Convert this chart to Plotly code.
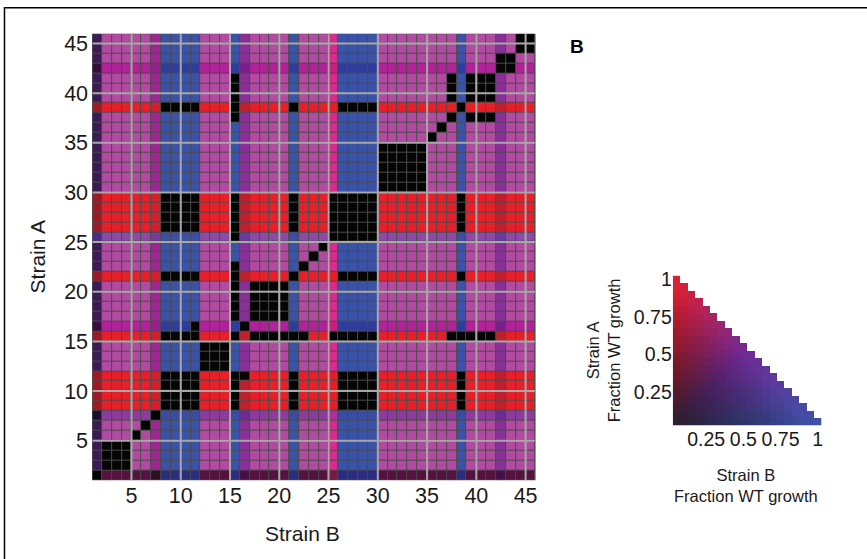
import numpy as np
import plotly.graph_objects as go

# ---------------- data ----------------
strain_ids = list(range(1, 46))
# phenotype class of each strain (row = strain A, column = strain B)
strain_type = ["D", "N", "N", "N", "N", "N", "W", "S", "S", "S",
               "S", "N", "N", "N", "S", "M", "N", "N", "N", "N",
               "S", "N", "N", "N", "V", "S", "S", "S", "S", "N",
               "N", "N", "N", "N", "N", "N", "N", "S", "N", "N",
               "N", "M", "N", "N", "N"]
# groups whose pairs are drawn black
same_group = [[1], [2, 3, 4], [5], [6], [7], [8], [9], [10], [11], [12, 13, 14],
              [15], [16], [17, 18, 19, 20], [21], [22], [23], [24],
              [25, 26, 27, 28, 29], [30, 31, 32, 33, 34], [35], [36],
              [37, 39, 40, 41], [38], [42, 43], [44, 45]]
extra_black = [(15, 17), (15, 18), (15, 19), (15, 20), (15, 22), (15, 25),
               (15, 37), (15, 39), (15, 40), (15, 41), (11, 16)]
# observed cell colour for (type of strain A, type of strain B)
pair_color = {
    ("N", "D"): "#3c1a56", ("N", "N"): "#b24aa2", ("N", "W"): "#9e2592",
    ("N", "S"): "#3a52a8", ("N", "M"): "#8a2e9a", ("N", "V"): "#da2b8c",
    ("S", "D"): "#9c1a26", ("S", "N"): "#e81f29", ("S", "W"): "#d21f2a",
    ("S", "S"): "#050505", ("S", "M"): "#c01f2c", ("S", "V"): "#e41f2a",
    ("D", "D"): "#050505", ("D", "N"): "#561140", ("D", "W"): "#2a1020",
    ("D", "S"): "#2a2c82", ("D", "M"): "#461046", ("D", "V"): "#781a40",
    ("W", "D"): "#1c1030", ("W", "N"): "#8e3a9e", ("W", "W"): "#050505",
    ("W", "S"): "#384ca6", ("W", "M"): "#6e2a92", ("W", "V"): "#b0309a",
    ("M", "D"): "#3a0c3c", ("M", "N"): "#b2209a", ("M", "W"): "#96208c",
    ("M", "S"): "#2e3c9e", ("M", "M"): "#7a1e8c", ("M", "V"): "#c8207a",
    ("V", "D"): "#4a2a84", ("V", "N"): "#8c4aa6", ("V", "W"): "#7a3a9c",
    ("V", "S"): "#3a4ea8", ("V", "M"): "#6a3a9e", ("V", "V"): "#050505",
}
legend_levels = [0.05, 0.10, 0.15, 0.20, 0.25, 0.30, 0.35, 0.40, 0.45, 0.50,
                 0.55, 0.60, 0.65, 0.70, 0.75, 0.80, 0.85, 0.90, 0.95, 1.00]
main_ticks = [5, 10, 15, 20, 25, 30, 35, 40, 45]
key_ticks = [0.25, 0.5, 0.75, 1.0]
key_ticktext = ["0.25", "0.5", "0.75", "1"]

# ---------------- build the main matrix ----------------
n = len(strain_ids)
black = set()
for g in same_group:
    for a in g:
        for b in g:
            black.add((a, b))
for a, b in extra_black:
    black.add((a, b))
    black.add((b, a))

palette = []
codes = np.zeros((n, n), dtype=int)
for i, sa in enumerate(strain_ids):
    for j, sb in enumerate(strain_ids):
        c = "#050505" if (sa, sb) in black else pair_color[(strain_type[i], strain_type[j])]
        if c not in palette:
            palette.append(c)
        codes[i, j] = palette.index(c)


def discrete_scale(colors):
    k = len(colors)
    scale = []
    for idx, col in enumerate(colors):
        scale.append([idx / k, col])
        scale.append([(idx + 1) / k, col])
    return scale


# ---------------- 2-D colour key ----------------
RED = np.array([232, 30, 40])
PUR = np.array([112, 42, 148])
BLU = np.array([58, 86, 170])
DARK = np.array([34, 30, 30])


def key_color(a, b):
    t = min(a + b, 1.0)
    f = b / (a + b)
    if f < 0.5:
        edge = RED + (PUR - RED) * (f / 0.5)
    else:
        edge = PUR + (BLU - PUR) * ((f - 0.5) / 0.5)
    c = edge * t ** 0.85 + DARK * (1 - t) ** 2
    c = np.clip(c, 0, 255).astype(int)
    return "#%02x%02x%02x" % tuple(c)


key_palette = []
m = len(legend_levels)
key_z = np.full((m, m), np.nan)
for i, a in enumerate(legend_levels):
    for j, b in enumerate(legend_levels):
        if a + b <= 1.05 + 1e-9:
            key_palette.append(key_color(a, b))
            key_z[i, j] = len(key_palette) - 1

# ---------------- figure ----------------
W, H = 867, 559
# the photographed page shows figure row y at screen row 7.9 + 0.9859*y
Y_OFF, Y_SCALE = 7.9, 0.9859


def px(x):
    return x / W


def py(Y):
    y = (Y - Y_OFF) / Y_SCALE
    return 1 - y / H


FONT = "Liberation Sans, Arial, Helvetica, sans-serif"
fig = go.Figure()
centers = [s + 0.5 for s in strain_ids]
fig.add_trace(go.Heatmap(
    z=codes, x=centers, y=centers, colorscale=discrete_scale(palette),
    zmin=-0.5, zmax=len(palette) - 0.5, showscale=False, xgap=1, ygap=1,
    hoverinfo="skip", xaxis="x", yaxis="y"))
fig.add_trace(go.Heatmap(
    z=key_z, x=legend_levels, y=legend_levels,
    colorscale=discrete_scale(key_palette), zmin=-0.5,
    zmax=len(key_palette) - 0.5, showscale=False, hoverinfo="skip",
    xaxis="x2", yaxis="y2"))

main_x = [px(92.3), px(536.7)]
main_y = [py(480.5), py(34.5)]
key_x = [px(674.3), px(823.3)]
key_y = [py(425.7), py(276)]

axis_common = dict(showgrid=False, zeroline=False, showline=False, ticks="",
                   tickfont=dict(family=FONT, size=21.5, color="#1a1a1a"))
fig.update_layout(
    width=W, height=H, margin=dict(l=0, r=0, t=0, b=0, pad=0), autosize=False,
    paper_bgcolor="white", plot_bgcolor="white", showlegend=False,
    xaxis=dict(domain=main_x, range=[1, 46], tickvals=main_ticks,
               anchor="y", **axis_common),
    yaxis=dict(domain=main_y, range=[1, 46], tickvals=main_ticks,
               anchor="x", ticklabelstandoff=3, **axis_common),
    xaxis2=dict(domain=key_x, range=[0.025, 1.025], tickvals=key_ticks,
                ticktext=key_ticktext, anchor="y2", showgrid=False,
                zeroline=False, showline=False, ticks="",
                tickfont=dict(family=FONT, size=19.5, color="#1a1a1a")),
    yaxis2=dict(domain=key_y, range=[0.025, 1.025], tickvals=key_ticks,
                ticktext=key_ticktext, anchor="x2", showgrid=False,
                zeroline=False, showline=False, ticks="",
                tickfont=dict(family=FONT, size=19.5, color="#1a1a1a")),
)

shapes = [
    dict(type="rect", xref="x", yref="y", x0=1, x1=46, y0=1, y1=46,
         fillcolor="#4a4a4a", line=dict(width=0), layer="below"),
]
for t in main_ticks:
    shapes.append(dict(type="line", xref="x", yref="y", x0=t, x1=t, y0=1, y1=46,
                       line=dict(color="#a8a8a8", width=2)))
    shapes.append(dict(type="line", xref="x", yref="y", x0=1, x1=46, y0=t, y1=t,
                       line=dict(color="#a8a8a8", width=2)))
shapes.append(dict(type="rect", xref="x", yref="y", x0=1, x1=46, y0=1, y1=46,
                   line=dict(color="#555555", width=1)))
shapes.append(dict(type="rect", xref="paper", yref="paper", x0=px(4.5),
                   x1=1.02, y0=-0.02, y1=1 - 0.8 / H,
                   line=dict(color="black", width=1.5)))
fig.update_layout(shapes=shapes)

ann = [
    dict(text="Strain B", x=px(303), y=py(534), font=dict(size=21)),
    dict(text="Strain A", x=px(38), y=py(257), textangle=-90, font=dict(size=21)),
    dict(text="<b>B</b>", x=px(578), y=py(47), font=dict(size=19, color="black")),
    dict(text="Strain A<br>Fraction WT growth", x=px(605), y=py(351),
         textangle=-90, font=dict(size=16.5)),
    dict(text="Strain B<br>Fraction WT growth", x=px(748), y=py(486),
         font=dict(size=16.5)),
]
for a in ann:
    a.update(xref="paper", yref="paper", showarrow=False,
             xanchor="center", yanchor="middle")
    a["font"].setdefault("color", "#1a1a1a")
    a["font"]["family"] = FONT
fig.update_layout(annotations=ann)

fig.write_html(
    "out.html",
    config={"displayModeBar": False},
    post_script=(
        "document.documentElement.style.margin='0px';"
        "document.body.style.margin='0px';document.body.style.padding='0px';"
        "var d=document.getElementById('{plot_id}');"
        "d.style.position='fixed';d.style.left='0px';d.style.top='0px';"
    ),
)
